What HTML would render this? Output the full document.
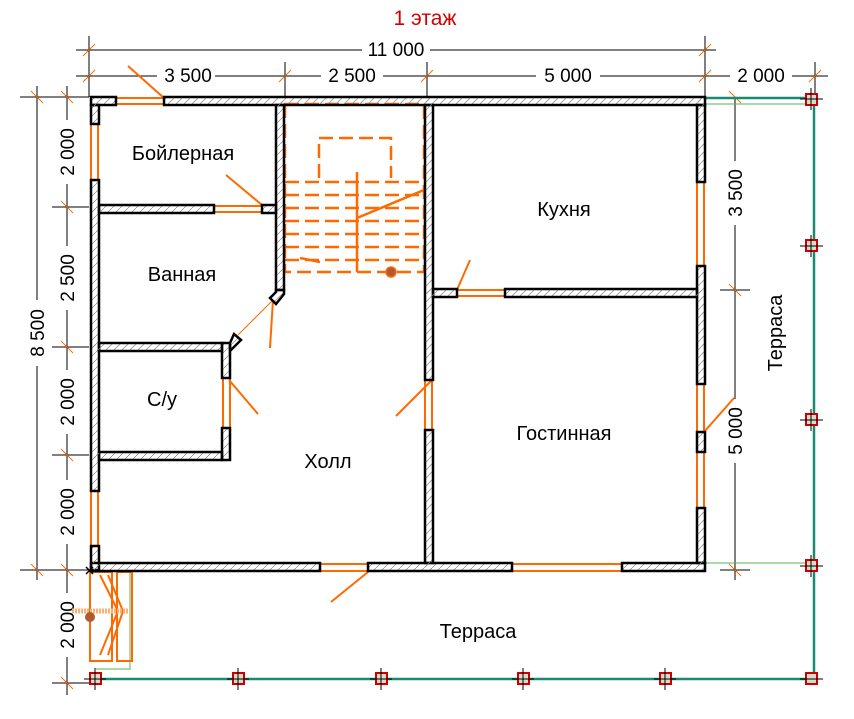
<!DOCTYPE html>
<html><head><meta charset="utf-8"><style>
html,body{margin:0;padding:0;background:#fff;}
svg{display:block;font-family:"Liberation Sans",sans-serif;}
</style></head><body>
<svg width="854" height="719" viewBox="0 0 854 719" xmlns="http://www.w3.org/2000/svg">
<defs>
<pattern id="h" width="8" height="8" patternUnits="userSpaceOnUse">
<line x1="0" y1="8" x2="8" y2="0" stroke="#888" stroke-width="0.7"/>
</pattern>
</defs>
<rect width="854" height="719" fill="#fff"/>
<text x="425" y="25" fill="#d40000" font-size="21" text-anchor="middle">1 этаж</text>

<g stroke="#000" stroke-width="1">
<line x1="76" y1="50" x2="716" y2="50"/>
<line x1="89" y1="36" x2="89" y2="97"/>
<line x1="705" y1="36" x2="705" y2="97"/>
<line x1="76" y1="76" x2="828" y2="76"/>
<line x1="285" y1="62" x2="285" y2="97"/>
<line x1="427" y1="62" x2="427" y2="97"/>
<line x1="815" y1="62" x2="815" y2="97"/>
<line x1="37" y1="86" x2="37" y2="580"/>
<line x1="67" y1="86" x2="67" y2="695"/>
<line x1="20" y1="97" x2="89" y2="97"/>
<line x1="20" y1="570" x2="89" y2="570"/>
<line x1="52" y1="207" x2="89" y2="207"/>
<line x1="52" y1="347" x2="89" y2="347"/>
<line x1="52" y1="455" x2="89" y2="455"/>
<line x1="52" y1="683" x2="89" y2="683"/>
<line x1="735" y1="97" x2="735" y2="580"/>
<line x1="720" y1="290" x2="750" y2="290"/>
<line x1="720" y1="570" x2="750" y2="570"/>
</g>
<g stroke="#ff6a00" stroke-width="1">
<line x1="83" y1="56" x2="95" y2="44"/><line x1="699" y1="56" x2="711" y2="44"/>
<line x1="83" y1="82" x2="95" y2="70"/><line x1="279" y1="82" x2="291" y2="70"/>
<line x1="421" y1="82" x2="433" y2="70"/><line x1="699" y1="82" x2="711" y2="70"/>
<line x1="809" y1="82" x2="821" y2="70"/>
<line x1="31" y1="91" x2="43" y2="103"/><line x1="61" y1="91" x2="73" y2="103"/>
<line x1="61" y1="201" x2="73" y2="213"/><line x1="61" y1="341" x2="73" y2="353"/>
<line x1="61" y1="449" x2="73" y2="461"/><line x1="31" y1="564" x2="43" y2="576"/>
<line x1="61" y1="564" x2="73" y2="576"/><line x1="61" y1="677" x2="73" y2="689"/>
<line x1="729" y1="284" x2="741" y2="296"/><line x1="729" y1="91" x2="741" y2="103"/>
<line x1="729" y1="564" x2="741" y2="576"/>
</g>
<g font-size="19" text-anchor="middle" fill="#000">
<rect x="362" y="39" width="68" height="20" fill="#fff"/>
<text x="396" y="56">11 000</text>
<rect x="157" y="65" width="58" height="20" fill="#fff"/><text x="188" y="82">3 500</text>
<rect x="321" y="65" width="62" height="20" fill="#fff"/><text x="352" y="82">2 500</text>
<rect x="536" y="65" width="64" height="20" fill="#fff"/><text x="568" y="82">5 000</text>
<rect x="730" y="65" width="62" height="20" fill="#fff"/><text x="761" y="82">2 000</text>
<rect x="25" y="300" width="22" height="66" fill="#fff"/><text transform="translate(44,333) rotate(-90)">8 500</text>
<rect x="55" y="120" width="22" height="64" fill="#fff"/><text transform="translate(74,152) rotate(-90)">2 000</text>
<rect x="55" y="246" width="22" height="64" fill="#fff"/><text transform="translate(74,278) rotate(-90)">2 500</text>
<rect x="55" y="370" width="22" height="64" fill="#fff"/><text transform="translate(74,402) rotate(-90)">2 000</text>
<rect x="55" y="480" width="22" height="64" fill="#fff"/><text transform="translate(74,512) rotate(-90)">2 000</text>
<rect x="55" y="593" width="22" height="64" fill="#fff"/><text transform="translate(74,625) rotate(-90)">2 000</text>
<rect x="723" y="161" width="22" height="64" fill="#fff"/><text transform="translate(742,193) rotate(-90)">3 500</text>
<rect x="723" y="399" width="22" height="64" fill="#fff"/><text transform="translate(742,431) rotate(-90)">5 000</text>
</g>

<g stroke="#1a8a70" stroke-width="2.5" fill="none">
<polyline points="705,98 814,98 814,679 96,679"/>
</g>
<g stroke="#5ab35a" stroke-width="1" fill="none">
<line x1="705" y1="104" x2="810" y2="104"/>
<line x1="705" y1="563" x2="810" y2="563"/>
<polyline points="130,571 130,669 96,669"/>
</g>
<g fill="#d8dcc8" stroke="#c00" stroke-width="2">
<rect x="806" y="94" width="11" height="11"/>
<rect x="806" y="240" width="11" height="11"/>
<rect x="806" y="414" width="11" height="11"/>
<rect x="806" y="560" width="11" height="11"/>
<rect x="806" y="673" width="11" height="11"/>
<rect x="90" y="673" width="11" height="11"/>
<rect x="233" y="673" width="11" height="11"/>
<rect x="376" y="673" width="11" height="11"/>
<rect x="518" y="673" width="11" height="11"/>
<rect x="660" y="673" width="11" height="11"/>
</g>
<g stroke="#000" stroke-width="1">
<line x1="800" y1="99" x2="823" y2="99"/><line x1="811" y1="88" x2="811" y2="110"/>
<line x1="800" y1="246" x2="823" y2="246"/><line x1="811" y1="235" x2="811" y2="257"/>
<line x1="800" y1="420" x2="823" y2="420"/><line x1="811" y1="409" x2="811" y2="431"/>
<line x1="800" y1="566" x2="823" y2="566"/><line x1="811" y1="555" x2="811" y2="577"/>
<line x1="84" y1="679" x2="106" y2="679"/><line x1="95" y1="668" x2="95" y2="690"/>
<line x1="227" y1="679" x2="249" y2="679"/><line x1="238" y1="668" x2="238" y2="690"/>
<line x1="370" y1="679" x2="392" y2="679"/><line x1="381" y1="668" x2="381" y2="690"/>
<line x1="512" y1="679" x2="534" y2="679"/><line x1="523" y1="668" x2="523" y2="690"/>
<line x1="654" y1="679" x2="676" y2="679"/><line x1="665" y1="668" x2="665" y2="690"/>
<line x1="800" y1="679" x2="823" y2="679"/>
</g>
<text transform="translate(782,333) rotate(-90)" font-size="20" text-anchor="middle">Терраса</text>
<text x="478" y="638" font-size="20" text-anchor="middle">Терраса</text>

<g fill="#fff" stroke="#ff6a00" stroke-width="2">
<rect x="116" y="98" width="48" height="6"/>
<rect x="91" y="124" width="7" height="56"/>
<rect x="91" y="491" width="7" height="55"/>
<rect x="214" y="206" width="48" height="6"/>
<rect x="320" y="564" width="48" height="7"/>
<rect x="512" y="564" width="110" height="7"/>
<rect x="697" y="182" width="7" height="84"/>
<rect x="697" y="384" width="7" height="48"/>
<rect x="697" y="452" width="7" height="56"/>
<rect x="457" y="290" width="48" height="6"/>
<rect x="425" y="380" width="7" height="50"/>
<rect x="223" y="378" width="7" height="50"/>
</g>
<g stroke="#ff6a00" stroke-width="2" fill="none">
<line x1="164" y1="98" x2="128" y2="66"/>
<line x1="262" y1="205" x2="226" y2="175"/>
<line x1="368" y1="572" x2="331" y2="602"/>
<line x1="457" y1="290" x2="470" y2="260"/>
<line x1="431" y1="381" x2="396" y2="416"/>
<line x1="229" y1="380" x2="258" y2="414"/>
<line x1="704" y1="432" x2="734" y2="398"/>
<line x1="273" y1="300" x2="270" y2="348"/>
<line x1="273" y1="300" x2="238" y2="335" stroke-width="1"/>
</g>

<g stroke="#ff6a00" stroke-width="2.5" fill="none">
<rect x="285" y="104" width="139" height="168" stroke-dasharray="14,6"/>
<polyline points="319,178 319,138 391,138 391,178" stroke-dasharray="14,6"/>
<line x1="285" y1="182" x2="424" y2="182" stroke-dasharray="14,6"/>
<line x1="285" y1="195" x2="424" y2="195" stroke-dasharray="14,6"/>
<line x1="285" y1="208" x2="424" y2="208" stroke-dasharray="14,6"/>
<line x1="285" y1="221" x2="424" y2="221" stroke-dasharray="14,6"/>
<line x1="285" y1="234" x2="424" y2="234" stroke-dasharray="14,6"/>
<line x1="285" y1="247" x2="424" y2="247" stroke-dasharray="14,6"/>
<line x1="285" y1="260" x2="424" y2="260" stroke-dasharray="14,6"/>
<line x1="357" y1="272" x2="357" y2="172"/>
<line x1="357" y1="218" x2="424" y2="190"/>
<line x1="300" y1="258" x2="320" y2="262"/>
</g>
<circle cx="391" cy="272" r="5" fill="#b05a30" stroke="#ff6a00" stroke-width="1.5"/>

<g stroke="#ff6a00" stroke-width="2" fill="none">
<rect x="90" y="572" width="22" height="89"/>
<rect x="117" y="572" width="15" height="89"/>
<polyline points="100,575 118,611 100,655"/>
<polyline points="108,575 123,611 108,655"/>
<line x1="72" y1="611" x2="128" y2="611" stroke="#ffb070" stroke-width="5" stroke-dasharray="2,1"/>
</g>
<circle cx="90" cy="617" r="5" fill="#b05a30"/>

<g fill="url(#h)" stroke="#000" stroke-width="2.5">
<rect x="91" y="97" width="25" height="8"/>
<rect x="164" y="97" width="541" height="8"/>
<rect x="91" y="105" width="8" height="19"/>
<rect x="91" y="180" width="8" height="311"/>
<rect x="91" y="546" width="8" height="24"/>
<rect x="91" y="563" width="229" height="8"/>
<rect x="368" y="563" width="144" height="8"/>
<rect x="622" y="563" width="83" height="8"/>
<rect x="697" y="105" width="8" height="77"/>
<rect x="697" y="266" width="8" height="118"/>
<rect x="697" y="432" width="8" height="20"/>
<rect x="697" y="508" width="8" height="55"/>
<rect x="99" y="205" width="115" height="8"/>
<rect x="262" y="205" width="14" height="8"/>
<rect x="276" y="105" width="8" height="185"/>
<polygon points="276,290 284,290 284,294 276,304 270,298 276,292"/>
<rect x="99" y="343" width="123" height="8"/>
<rect x="222" y="343" width="8" height="35"/>
<polygon points="230,343 234,334 241,340 230,351"/>
<rect x="222" y="428" width="8" height="32"/>
<rect x="99" y="452" width="123" height="8"/>
<rect x="425" y="105" width="8" height="275"/>
<rect x="425" y="430" width="8" height="133"/>
<rect x="433" y="289" width="24" height="8"/>
<rect x="505" y="289" width="192" height="8"/>
</g>
<g fill="url(#h)">
<rect x="93" y="206" width="8" height="6"/><rect x="93" y="344" width="8" height="6"/>
<rect x="93" y="453" width="8" height="6"/><rect x="277" y="99" width="6" height="8"/>
<rect x="426" y="99" width="6" height="8"/><rect x="426" y="290" width="8" height="6"/>
<rect x="695" y="290" width="8" height="6"/><rect x="426" y="561" width="6" height="8"/>
<rect x="93" y="98" width="5" height="8"/><rect x="93" y="562" width="5" height="8"/>
<rect x="698" y="98" width="6" height="8"/><rect x="698" y="562" width="6" height="8"/>
</g>
<g stroke="#000" stroke-width="1.5"><line x1="86" y1="567" x2="93" y2="574"/><line x1="86" y1="574" x2="93" y2="567"/></g>

<g font-size="20" text-anchor="middle" fill="#000">
<text x="183" y="160">Бойлерная</text>
<text x="182" y="281">Ванная</text>
<text x="162" y="406">С/у</text>
<text x="328" y="468">Холл</text>
<text x="564" y="216">Кухня</text>
<text x="564" y="440">Гостинная</text>
</g>
</svg>
</body></html>
